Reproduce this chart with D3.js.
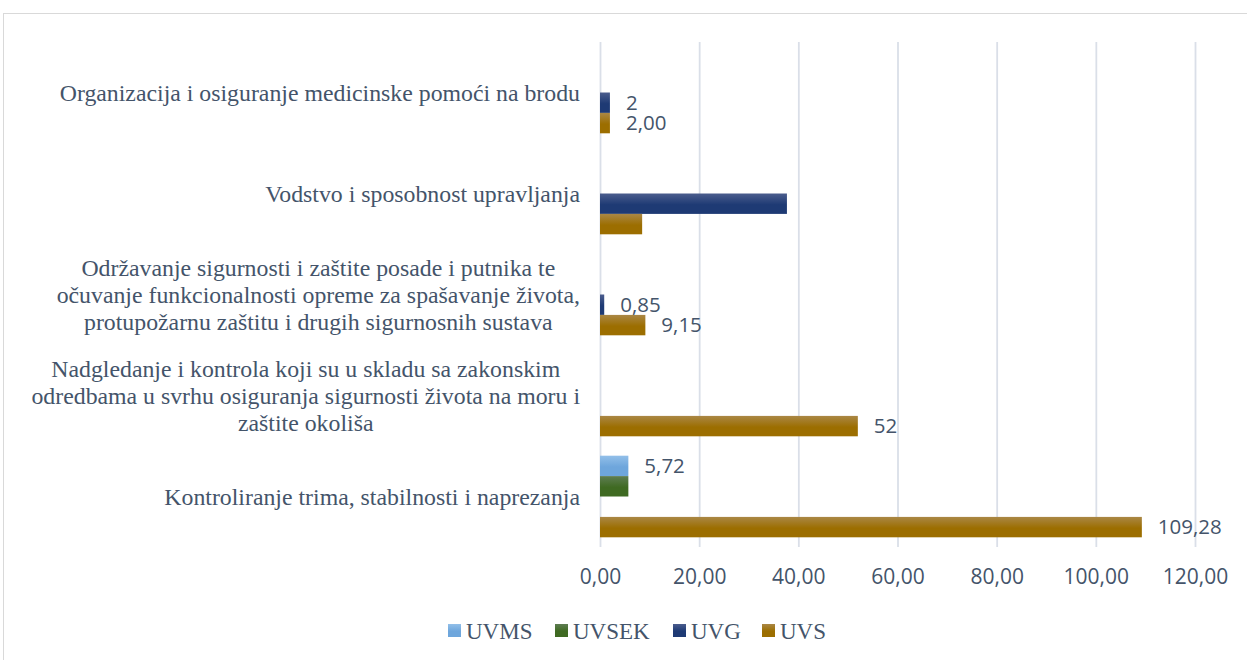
<!DOCTYPE html>
<html>
<head>
<meta charset="utf-8">
<script src="https://cdn.jsdelivr.net/npm/d3@7"></script>
<style>
  body { margin: 0; background: #fff; }
  svg { display: block; }
</style>
</head>
<body>
<div class="chart"></div>
<script>
// categories, top to bottom (lines as wrapped in the original)
var categories = [
  ["Organizacija i osiguranje medicinske pomoći na brodu"],
  ["Vodstvo i sposobnost upravljanja"],
  ["Održavanje sigurnosti i zaštite posade i putnika te",
   "očuvanje funkcionalnosti opreme za spašavanje života,",
   "protupožarnu zaštitu i drugih sigurnosnih sustava"],
  ["Nadgledanje i kontrola koji su u skladu sa zakonskim",
   "odredbama u svrhu osiguranja sigurnosti života na moru i",
   "zaštite okoliša"],
  ["Kontroliranje trima, stabilnosti i naprezanja"]
];

var seriesNames = ["UVMS", "UVSEK", "UVG", "UVS"];

var uvms  = [null, null, null, null, 5.72];
var uvsek = [null, null, null, null, 5.72];
var uvg   = [2, 37.7, 0.85, null, null];
var uvs   = [2, 8.5, 9.15, 52, 109.28];

// data labels as shown (null = no label)
var uvmsLabels  = [null, null, null, null, "5,72"];
var uvsekLabels = [null, null, null, null, null];
var uvgLabels   = ["2", null, "0,85", null, null];
var uvsLabels   = ["2,00", null, "9,15", "52", "109,28"];

var xTicks = [0, 20, 40, 60, 80, 100, 120];

var colors = {
  UVMS:  ["#92bfe9", "#6ea6dc"],
  UVSEK: ["#5e7d52", "#3f6a22"],
  UVG:   ["#4b5d8d", "#1e3a74"],
  UVS:   ["#aa8745", "#9c6e00"]
};

var width  = 1247,
    height = 660;

var textColor = "#44546a";

var svg = d3.select(".chart")
            .append("svg")
            .attr("width", width)
            .attr("height", height);

var defs = svg.append("defs");
seriesNames.forEach(function (s) {
  var g = defs.append("linearGradient")
              .attr("id", "grad-" + s)
              .attr("x1", 0).attr("y1", 0).attr("x2", 0).attr("y2", 1);
  g.append("stop").attr("offset", "0%").attr("stop-color", colors[s][0]);
  g.append("stop").attr("offset", "55%").attr("stop-color", colors[s][1]);
  g.append("stop").attr("offset", "100%").attr("stop-color", colors[s][1]);
});

// outer frame
svg.append("rect")
   .attr("x", 3.5).attr("y", 13.5)
   .attr("width", 1300).attr("height", 700)
   .attr("fill", "none")
   .attr("stroke", "#d9d9d9")
   .attr("stroke-width", 1);

var plotTop = 42, plotBottom = 547;

var x = d3.scaleLinear().domain([0, 120]).range([600, 1195]);

var y0 = d3.scaleBand()
           .domain(d3.range(categories.length))
           .range([plotTop, plotBottom])
           .paddingInner(0.192)
           .paddingOuter(0.096);

var y1 = d3.scaleBand()
           .domain(seriesNames)
           .range([0, y0.bandwidth()]);

// gridlines
var grid = svg.append("g")
              .attr("transform", "translate(0," + plotBottom + ")")
              .call(d3.axisBottom(x).tickValues(xTicks).tickSize(-(plotBottom - plotTop)).tickFormat(""));
grid.select(".domain").remove();
grid.selectAll("line").attr("stroke", "#dadfe8").attr("stroke-width", 1.8);

// x tick labels
var fmt = function (d) { return d3.format(".2f")(d).replace(".", ","); };
var axis = svg.append("g")
              .attr("transform", "translate(0," + plotBottom + ")")
              .call(d3.axisBottom(x).tickValues(xTicks).tickSize(0).tickPadding(0).tickFormat(fmt));
axis.select(".domain").remove();
axis.selectAll("text")
    .attr("y", 30)
    .attr("dy", "0.35em")
    .attr("fill", textColor)
    .style("font-family", "'Open Sans', sans-serif")
    .style("font-size", "21px");

// bars
var table = [
  { name: "UVMS",  values: uvms,  labels: uvmsLabels },
  { name: "UVSEK", values: uvsek, labels: uvsekLabels },
  { name: "UVG",   values: uvg,   labels: uvgLabels },
  { name: "UVS",   values: uvs,   labels: uvsLabels }
];

var points = [];
table.forEach(function (s) {
  s.values.forEach(function (v, i) {
    points.push({ series: s.name, cat: i, value: v, label: s.labels[i] });
  });
});

svg.selectAll("rect.bar")
   .data(points.filter(function (d) { return d.value != null; }))
   .enter()
   .append("rect")
   .attr("class", "bar")
   .attr("x", x(0))
   .attr("y", function (d) { return y0(d.cat) + y1(d.series); })
   .attr("width", function (d) { return x(d.value) - x(0); })
   .attr("height", y1.bandwidth())
   .attr("fill", function (d) { return "url(#grad-" + d.series + ")"; });

svg.selectAll("text.value")
   .data(points.filter(function (d) { return d.label != null; }))
   .enter()
   .append("text")
   .attr("class", "value")
   .attr("x", function (d) { return x(d.value) + 16; })
   .attr("y", function (d) { return y0(d.cat) + y1(d.series) + y1.bandwidth() / 2; })
   .attr("dy", "0.35em")
   .attr("fill", textColor)
   .style("font-family", "'Open Sans', sans-serif")
   .style("font-size", "20.5px")
   .text(function (d) { return d.label; });

// category labels
var labelRight = 580, lineH = 27;
categories.forEach(function (lines, i) {
  var cy = y0(i) + y0.bandwidth() / 2;
  var t = svg.append("text")
             .attr("fill", textColor)
             .style("font-family", "'Liberation Serif', 'Times New Roman', serif")
             .style("font-size", "23.8px");
  lines.forEach(function (l, j) {
    t.append("tspan")
     .attr("y", cy + (j - (lines.length - 1) / 2) * lineH)
     .attr("dy", "0.35em")
     .text(l);
  });
  var maxW = 0;
  t.selectAll("tspan").each(function () { maxW = Math.max(maxW, this.getComputedTextLength()); });
  t.attr("text-anchor", "middle");
  t.selectAll("tspan").attr("x", labelRight - maxW / 2);
});

// legend
var legendX = [448, 555, 673, 762];
var legend = svg.selectAll("g.legend")
                .data(seriesNames)
                .enter()
                .append("g")
                .attr("class", "legend")
                .attr("transform", function (d, i) { return "translate(" + legendX[i] + ",624)"; });
legend.append("rect")
      .attr("width", 13).attr("height", 13)
      .attr("fill", function (d) { return "url(#grad-" + d + ")"; });
legend.append("text")
      .attr("x", 18)
      .attr("y", 6.5)
      .attr("dy", "0.35em")
      .attr("fill", textColor)
      .style("font-family", "'Liberation Serif', 'Times New Roman', serif")
      .style("font-size", "23px")
      .text(function (d) { return d; });
</script>
</body>
</html>
